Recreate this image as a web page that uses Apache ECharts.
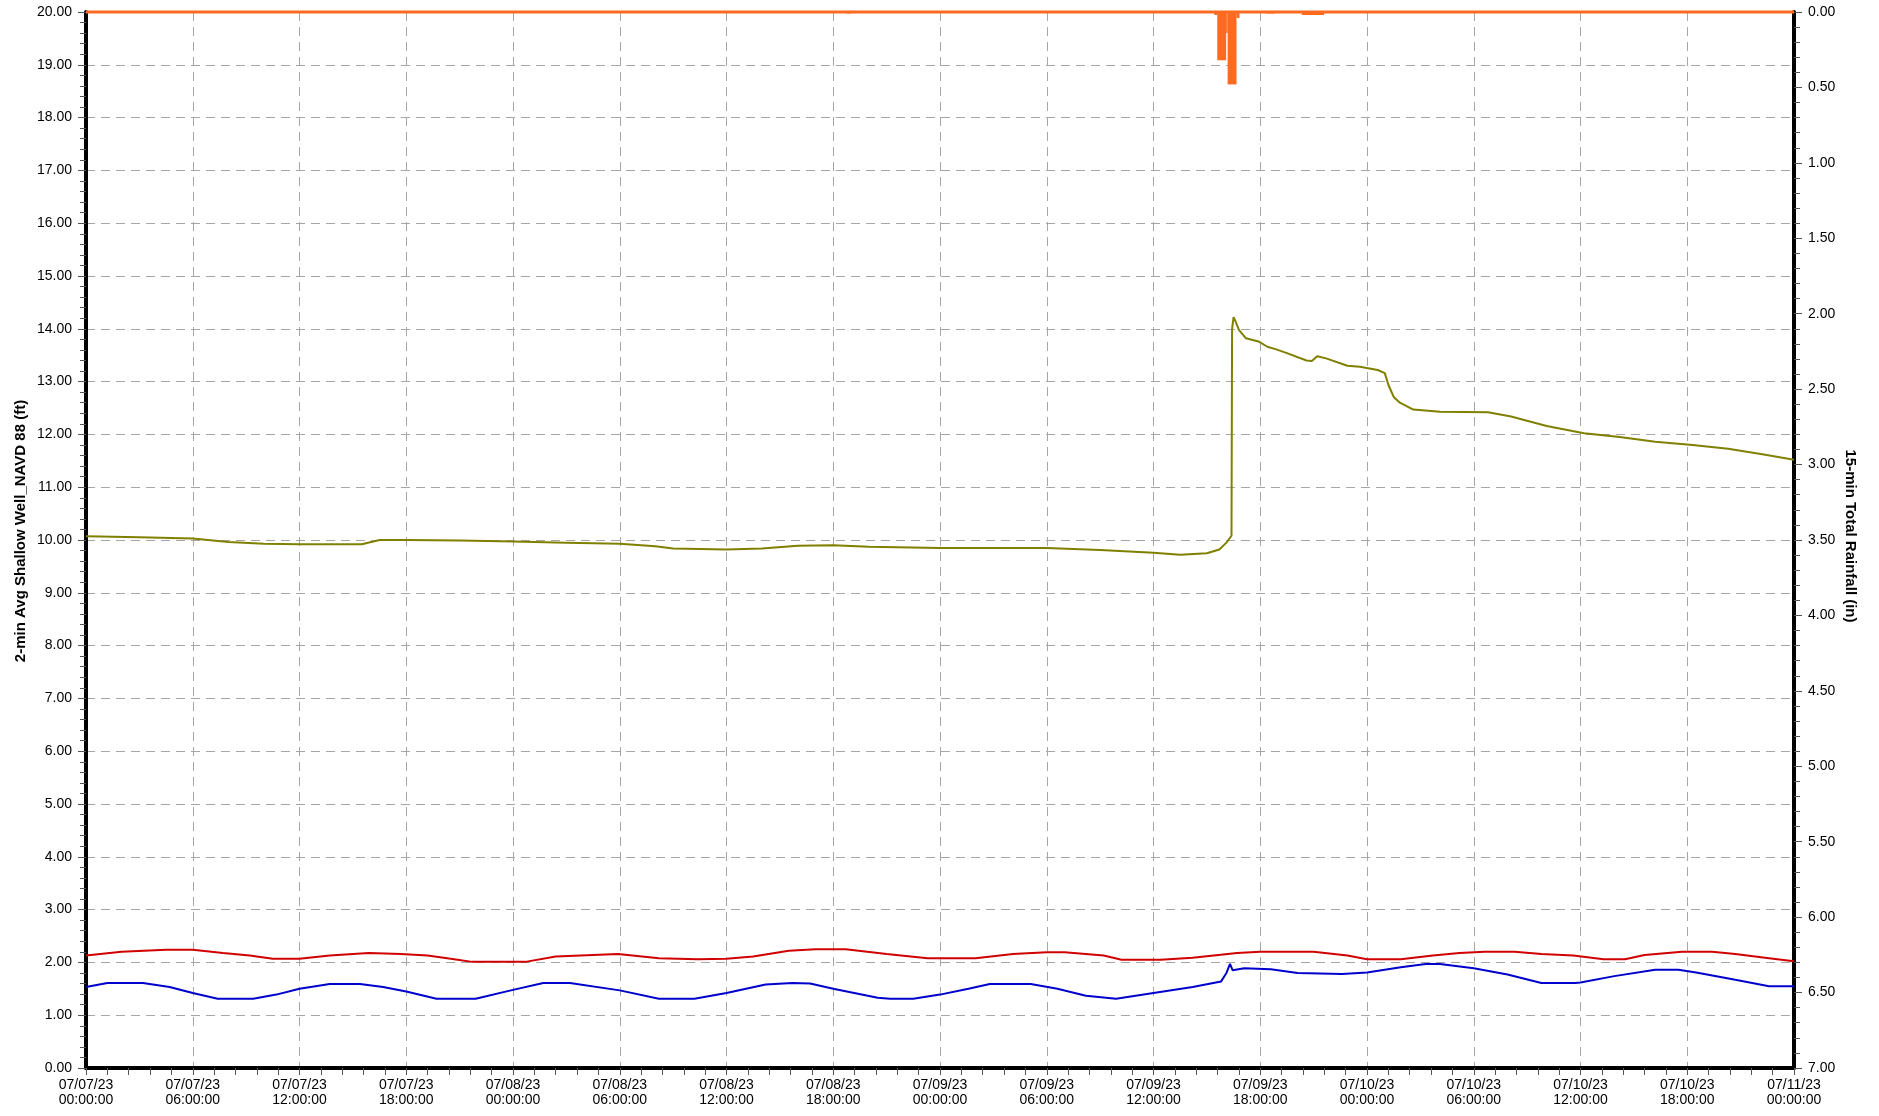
<!DOCTYPE html>
<html><head><meta charset="utf-8">
<script src="https://cdn.jsdelivr.net/npm/echarts@6/dist/echarts.min.js"></script>
<style>html,body{margin:0;padding:0;background:#fff}#c{width:1879px;height:1116px}</style>
</head><body><div id="c"></div>
<script>
// Times are "day-of-July HH:MM" (2023)
const greenTimes = ['7 00:00','7 03:00','7 06:00','7 08:00','7 10:00','7 12:00','7 15:30','7 16:30','7 18:00','7 21:00','8 00:00','8 03:00','8 06:00','8 08:00','8 09:00','8 12:00','8 14:00','8 16:00','8 18:00','8 20:00','9 00:00','9 06:00','9 09:00','9 12:00','9 13:30','9 15:00','9 15:42','9 16:06','9 16:23','9 16:25','9 16:30','9 16:36','9 16:48','9 17:12','9 17:54','9 18:24','9 18:54','9 19:30','9 20:36','9 20:54','9 21:12','9 21:42','9 22:54','9 23:36','10 00:36','10 01:00','10 01:12','10 01:30','10 01:51','10 02:36','10 04:06','10 06:48','10 08:06','10 10:06','10 12:12','10 14:12','10 16:12','10 18:18','10 20:18','10 22:18','11 00:00'];
const greenValues = [10.07,10.05,10.03,9.96,9.93,9.92,9.92,10.0,10.0,9.99,9.97,9.95,9.93,9.88,9.84,9.82,9.84,9.89,9.9,9.87,9.85,9.85,9.81,9.76,9.72,9.75,9.82,9.95,10.08,14.0,14.22,14.15,13.98,13.82,13.76,13.66,13.61,13.54,13.4,13.39,13.48,13.44,13.3,13.28,13.22,13.16,12.94,12.71,12.6,12.47,12.43,12.42,12.34,12.16,12.02,11.95,11.86,11.8,11.73,11.62,11.52];

const redTimes = ['7 00:00','7 02:00','7 04:30','7 06:00','7 07:42','7 09:12','7 10:30','7 12:00','7 13:42','7 15:54','7 17:42','7 19:12','7 20:42','7 21:42','8 00:42','8 02:24','8 05:54','8 08:12','8 10:24','8 12:00','8 13:30','8 15:30','8 17:00','8 18:42','8 21:00','8 23:18','9 02:00','9 04:06','9 06:00','9 07:00','9 09:12','9 10:12','9 12:24','9 14:12','9 16:42','9 18:00','9 21:00','9 22:54','10 00:00','10 01:54','10 03:42','10 05:12','10 06:36','10 08:18','10 09:48','10 11:36','10 13:18','10 14:30','10 15:36','10 17:42','10 19:24','10 20:42','10 22:36','11 00:00'];
const redValues = [2.13,2.2,2.24,2.24,2.18,2.13,2.07,2.07,2.13,2.18,2.16,2.13,2.06,2.01,2.01,2.11,2.16,2.08,2.06,2.07,2.11,2.22,2.25,2.25,2.16,2.08,2.08,2.16,2.19,2.19,2.13,2.05,2.05,2.09,2.18,2.2,2.2,2.13,2.06,2.06,2.13,2.18,2.2,2.2,2.16,2.13,2.06,2.06,2.14,2.2,2.2,2.16,2.08,2.02];

const blueTimes = ['7 00:00','7 01:12','7 03:12','7 04:42','7 06:00','7 07:24','7 09:24','7 10:42','7 12:00','7 13:42','7 15:24','7 16:42','7 18:00','7 19:42','7 21:54','8 00:00','8 01:42','8 03:12','8 06:00','8 08:12','8 10:12','8 12:00','8 14:12','8 15:42','8 16:42','8 18:00','8 20:30','8 21:12','8 22:30','9 00:00','9 01:36','9 02:48','9 05:06','9 06:36','9 08:12','9 09:54','9 12:00','9 14:12','9 15:48','9 16:06','9 16:18','9 16:27','9 17:06','9 18:36','9 20:06','9 22:36','10 00:00','10 01:54','10 03:18','10 04:06','10 06:00','10 07:54','10 09:48','10 11:42','10 12:00','10 13:54','10 16:12','10 17:30','10 18:30','10 20:42','10 22:36','11 00:00'];
const blueValues = [1.535,1.61,1.61,1.535,1.42,1.31,1.31,1.39,1.5,1.59,1.59,1.535,1.45,1.31,1.31,1.48,1.61,1.61,1.47,1.31,1.31,1.42,1.58,1.61,1.6,1.5,1.33,1.31,1.31,1.39,1.5,1.59,1.59,1.5,1.37,1.31,1.42,1.535,1.64,1.8,1.97,1.85,1.89,1.87,1.8,1.78,1.81,1.91,1.97,1.97,1.89,1.77,1.61,1.61,1.62,1.74,1.86,1.86,1.81,1.67,1.55,1.55];

// Rainfall (in): non-zero intervals [start, end, value]
const rainStart  = ['8 18:45','9 15:25','9 15:35','9 16:05','9 16:10','9 16:40','9 18:20','9 20:20'];
const rainEnd    = ['8 19:00','9 15:35','9 16:05','9 16:10','9 16:40','9 16:50','9 18:50','9 21:35'];
const rainValues = [0.01,0.02,0.32,0.14,0.48,0.04,0.01,0.02];

const xStart = '7 00:00', xEnd = '11 00:00';
const leftTitle = '2-min Avg Shallow Well_NAVD 88 (ft)';
const rightTitle = '15-min Total Rainfall (in)';

function t(s){const p=s.split(' ');const hm=p[1].split(':');return Date.UTC(2023,6,+p[0],+hm[0],+hm[1]);}
function pairs(ts,vs){return ts.map((s,i)=>[t(s),vs[i]]);}
function pad(n){return (n<10?'0':'')+n;}

const FONT = 'Liberation Sans, Arial, sans-serif';
const grid = {left:86,right:85,top:12,bottom:48};
const dash = {color:'#a6a6a6',width:1,type:[9,6]};
const ORANGE = '#ff6a21';

const chart = echarts.init(document.getElementById('c'),null,{renderer:'canvas'});
chart.setOption({
  animation:false,
  backgroundColor:'#fff',
  grid:Object.assign({show:true,borderColor:'#444',borderWidth:1,backgroundColor:'transparent'},grid),
  xAxis:{
    type:'value', min:t(xStart), max:t(xEnd), interval:6*3600*1000,
    axisLine:{onZero:false,lineStyle:{color:'#000',width:4}},
    axisTick:{show:true,length:7,lineStyle:{color:'#555',width:1}},
    minorTick:{show:true,splitNumber:5,length:7,lineStyle:{color:'#555',width:1}},
    splitLine:{show:true,lineStyle:dash},
    axisLabel:{margin:10,color:'#000',fontSize:14,fontFamily:FONT,lineHeight:15,
      formatter:v=>{const d=new Date(v);return pad(d.getUTCMonth()+1)+'/'+pad(d.getUTCDate())+'/'+pad(d.getUTCFullYear()%100)+'\n'+pad(d.getUTCHours())+':'+pad(d.getUTCMinutes())+':00';}}
  },
  yAxis:[{
    type:'value',min:0,max:20,interval:1,position:'left',
    axisLine:{show:true,lineStyle:{color:'#000',width:4}},
    axisTick:{show:true,length:8,lineStyle:{color:'#555',width:1}},
    minorTick:{show:true,splitNumber:5,length:6,lineStyle:{color:'#555',width:1}},
    splitLine:{show:true,lineStyle:dash},
    axisLabel:{margin:14,color:'#000',fontSize:14,fontFamily:FONT,formatter:v=>v.toFixed(2)}
  },{
    type:'value',min:0,max:7,interval:0.5,position:'right',inverse:true,
    axisLine:{show:true,lineStyle:{color:'#000',width:4}},
    axisTick:{show:true,length:8,lineStyle:{color:'#555',width:1}},
    minorTick:{show:true,splitNumber:5,length:6,lineStyle:{color:'#555',width:1}},
    splitLine:{show:false},
    axisLabel:{margin:14,color:'#000',fontSize:14,fontFamily:FONT,formatter:v=>v.toFixed(2)}
  }],
  graphic:[
    {type:'text',x:21,y:531,rotation:Math.PI/2,style:{text:leftTitle,font:'bold 15px '+FONT,fill:'#000',textAlign:'center',textVerticalAlign:'middle'}},
    {type:'text',x:1850,y:536,rotation:-Math.PI/2,style:{text:rightTitle,font:'bold 15px '+FONT,fill:'#000',textAlign:'center',textVerticalAlign:'middle'}}
  ],
  series:[
    {type:'line',name:'red',data:pairs(redTimes,redValues),symbol:'none',lineStyle:{color:'#d00000',width:2},z:3},
    {type:'line',name:'blue',data:pairs(blueTimes,blueValues),symbol:'none',lineStyle:{color:'#0000cc',width:2},z:3},
    {type:'line',name:'green',data:pairs(greenTimes,greenValues),symbol:'none',lineStyle:{color:'#808000',width:2},z:3},
    {type:'line',name:'rain-zero',yAxisIndex:1,data:[[t(xStart),0],[t(xEnd),0]],symbol:'none',
      lineStyle:{color:ORANGE,width:3},z:4,clip:false},
    {type:'custom',name:'rain',yAxisIndex:1,z:4,
      data:rainStart.map((s,i)=>[t(s),t(rainEnd[i]),rainValues[i]]),
      encode:{x:[0,1],y:2},
      renderItem:function(params,api){
        const a=api.coord([api.value(0),0]);
        const b=api.coord([api.value(1),api.value(2)]);
        const cs=params.coordSys;
        const r=echarts.graphic.clipRectByRect(
          {x:a[0],y:Math.min(a[1],b[1]),width:b[0]-a[0],height:Math.max(1.5,Math.abs(b[1]-a[1]))},
          {x:cs.x,y:cs.y,width:cs.width,height:cs.height});
        return r && {type:'rect',shape:r,style:{fill:ORANGE}};
      }}
  ]
});
</script></body></html>
